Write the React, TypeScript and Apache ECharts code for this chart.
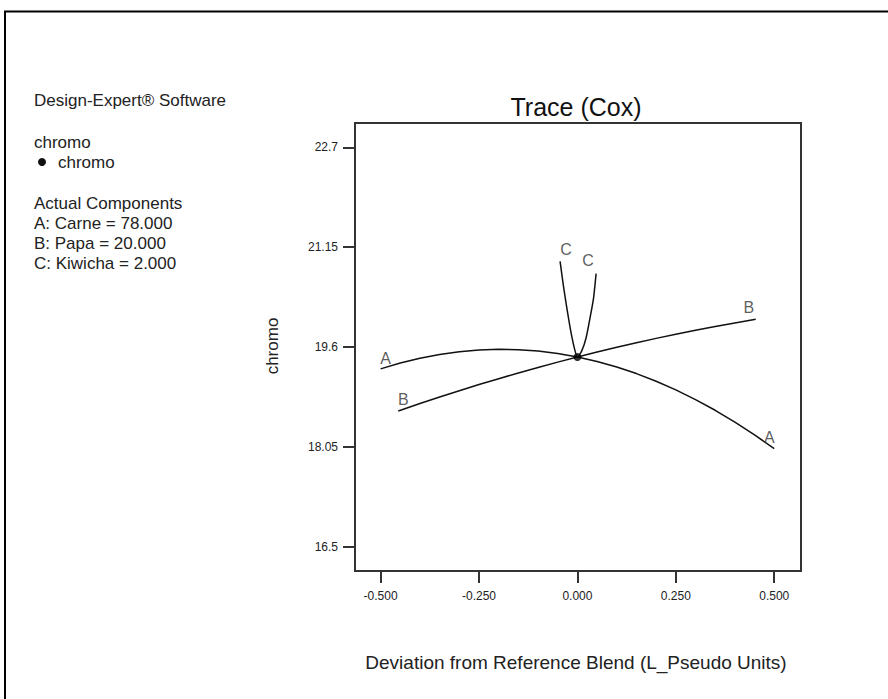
import React, { useEffect, useRef } from 'react';
import * as echarts from 'echarts';

const xTickValues = [-0.5, -0.25, 0, 0.25, 0.5];
const yTickValues = [16.5, 18.05, 19.6, 21.15, 22.7];

const traceAX = [-0.5, -0.45, -0.4, -0.35, -0.3, -0.25, -0.2, -0.15, -0.1, -0.05, 0, 0.05, 0.1, 0.15, 0.2, 0.25, 0.3, 0.35, 0.4, 0.45, 0.5];
const traceAY = [19.26, 19.351, 19.426, 19.485, 19.527, 19.554, 19.564, 19.559, 19.537, 19.499, 19.445, 19.375, 19.289, 19.187, 19.068, 18.934, 18.783, 18.617, 18.434, 18.235, 18.02];

const traceBX = [-0.455, -0.4, -0.35, -0.3, -0.25, -0.2, -0.15, -0.1, -0.05, 0, 0.05, 0.1, 0.15, 0.2, 0.25, 0.3, 0.35, 0.4, 0.453];
const traceBY = [18.607, 18.722, 18.823, 18.921, 19.016, 19.108, 19.197, 19.282, 19.365, 19.445, 19.522, 19.596, 19.666, 19.734, 19.799, 19.86, 19.919, 19.974, 20.03];

const traceCX = [-0.044, -0.036, -0.027, -0.017, -0.008, 0, 0.011, 0.022, 0.032, 0.041, 0.0475];
const traceCY = [20.93, 20.57, 20.21, 19.85, 19.59, 19.445, 19.54, 19.74, 20.05, 20.36, 20.74];

const referenceBlend = [0, 19.445];

const infoLines = [
  { text: 'Design-Expert® Software', y: 100 },
  { text: 'chromo', y: 142 },
  { text: 'chromo', y: 162, indent: true },
  { text: 'Actual Components', y: 203 },
  { text: 'A: Carne = 78.000', y: 223 },
  { text: 'B: Papa = 20.000', y: 243 },
  { text: 'C: Kiwicha = 2.000', y: 263 },
];

const FONT = 'Arial, "Liberation Sans", sans-serif';

function zip(xs: number[], ys: number[]) {
  return xs.map((x, i) => [x, ys[i]]);
}

export default function App() {
  const ref = useRef<HTMLDivElement>(null);
  useEffect(() => {
    if (!ref.current) return;
    const chart = echarts.init(ref.current, null, { renderer: 'svg' });
    const traces = [
      { name: 'A', xs: traceAX, ys: traceAY, off: [[5, 3], [-5, 2]] },
      { name: 'B', xs: traceBX, ys: traceBY, off: [[5, 2], [-7, 1]] },
      { name: 'C', xs: traceCX, ys: traceCY, off: [[6, 1], [-8, 0]] },
    ];
    const lineSeries = traces.map((t) => ({
      type: 'line',
      name: t.name,
      data: zip(t.xs, t.ys),
      showSymbol: false,
      smooth: t.name === 'C' ? 0.25 : false,
      lineStyle: { color: '#111', width: 1.5 },
      z: 2,
    }));
    const labelSeries = traces.map((t) => ({
      type: 'scatter',
      name: t.name + '-labels',
      symbolSize: 0,
      data: [
        {
          value: [t.xs[0], t.ys[0]],
          label: { show: true, formatter: t.name, position: 'top', offset: t.off[0] },
        },
        {
          value: [t.xs[t.xs.length - 1], t.ys[t.ys.length - 1]],
          label: { show: true, formatter: t.name, position: 'top', offset: t.off[1] },
        },
      ],
      label: { color: '#333', fontSize: 16, fontFamily: FONT },
      z: 3,
    }));
    const graphics: any[] = [
      {
        type: 'rect',
        shape: { x: 5, y: 11.5, width: 1000, height: 1000 },
        style: { fill: 'none', stroke: '#000', lineWidth: 2 },
        silent: true,
      },
      {
        type: 'text',
        x: 576,
        y: 107,
        style: { text: 'Trace (Cox)', fontSize: 25, fontFamily: FONT, fill: '#111', textAlign: 'center', textVerticalAlign: 'middle' },
      },
      {
        type: 'text',
        x: 272,
        y: 346,
        rotation: Math.PI / 2,
        style: { text: 'chromo', fontSize: 17, fontFamily: FONT, fill: '#222', textAlign: 'center', textVerticalAlign: 'middle' },
      },
      {
        type: 'text',
        x: 576,
        y: 662,
        style: { text: 'Deviation from Reference Blend (L_Pseudo Units)', fontSize: 19, fontFamily: FONT, fill: '#222', textAlign: 'center', textVerticalAlign: 'middle' },
      },
      {
        type: 'circle',
        shape: { cx: 42, cy: 162, r: 4 },
        style: { fill: '#111' },
      },
    ];
    infoLines.forEach((l) => {
      graphics.push({
        type: 'text',
        x: l.indent ? 58 : 34,
        y: l.y,
        style: { text: l.text, fontSize: 17, fontFamily: FONT, fill: '#222', textAlign: 'left', textVerticalAlign: 'middle' },
      });
    });

    chart.setOption({
      animation: false,
      backgroundColor: '#fff',
      grid: {
        left: 355,
        top: 123,
        right: 87,
        bottom: 128,
        show: true,
        borderColor: '#333',
        borderWidth: 2,
        containLabel: false,
      },
      xAxis: {
        type: 'value',
        min: -0.565,
        max: 0.568,
        axisLine: { show: true, onZero: false, lineStyle: { color: '#333', width: 2 } },
        axisTick: { show: true, inside: false, length: 12, customValues: xTickValues, lineStyle: { color: '#333', width: 2 } },
        axisLabel: {
          customValues: xTickValues,
          formatter: (v: number) => v.toFixed(3),
          fontSize: 12,
          fontFamily: FONT,
          color: '#222',
          margin: 19,
        },
        splitLine: { show: false },
      },
      yAxis: {
        type: 'value',
        min: 16.12,
        max: 23.08,
        axisLine: { show: true, onZero: false, lineStyle: { color: '#333', width: 2 } },
        axisTick: { show: true, inside: false, length: 12, customValues: yTickValues, lineStyle: { color: '#333', width: 2 } },
        axisLabel: {
          customValues: yTickValues,
          formatter: (v: number) => String(v),
          fontSize: 12,
          fontFamily: FONT,
          color: '#222',
          margin: 17,
        },
        splitLine: { show: false },
      },
      graphic: graphics,
      series: [
        ...lineSeries,
        ...labelSeries,
        {
          type: 'scatter',
          name: 'reference',
          data: [referenceBlend],
          symbol: 'circle',
          symbolSize: 8,
          itemStyle: { color: '#000' },
          z: 4,
        },
      ],
    });
    return () => chart.dispose();
  }, []);
  return (
    <div
      ref={ref}
      style={{ position: 'fixed', left: 0, top: 0, width: 888, height: 699, background: '#fff' }}
    />
  );
}
